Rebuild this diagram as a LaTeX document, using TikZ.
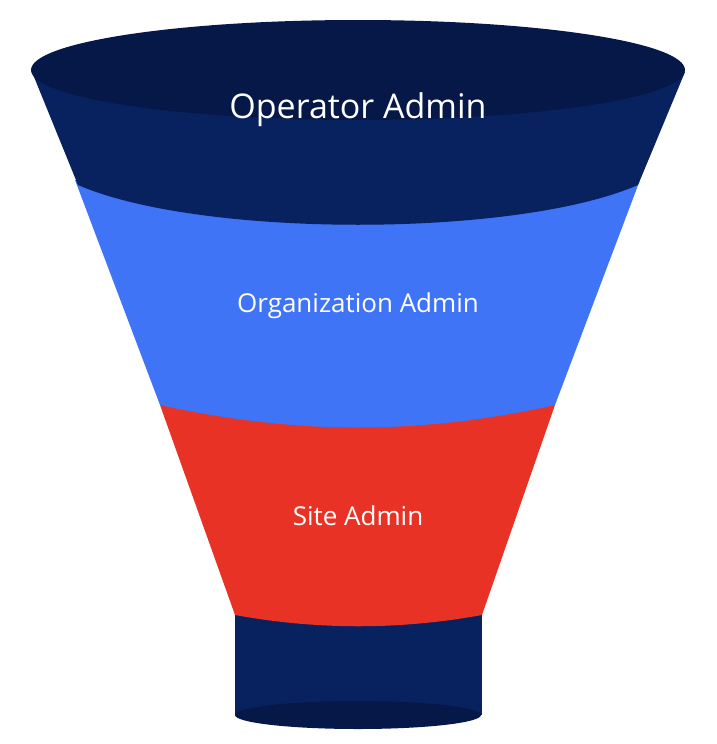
\documentclass[tikz,border=0pt]{standalone}
\usepackage{fontspec}
\setmainfont{Open Sans}
\definecolor{navy}{HTML}{08215F}
\definecolor{navydark}{HTML}{061848}
\definecolor{fblue}{HTML}{3E74F5}
\definecolor{fred}{HTML}{E83225}
\tikzset{lbl/.style={text=white,font=\fontsize{26}{30}\selectfont}}
\begin{document}
\begin{tikzpicture}[x=1pt,y=-1pt]
\useasboundingbox (0,0) rectangle (716,744);
% neck
\fill[navy] (235,600) rectangle (482,715);
\fill[navydark] (358,715) ellipse [x radius=123, y radius=14];
% red band
\fill[fred] (160,405) -- (555,405) -- (482,615) .. controls (400,630) and (317,630) .. (235,615) -- cycle;
% blue band
\fill[fblue] (75,180) -- (640,180) -- (555,405) .. controls (420,435) and (296,435) .. (160,405) -- cycle;
% navy band
\fill[navy] (32,72) -- (685,72) -- (638,185) .. controls (516,238) and (200,238) .. (78,185) -- cycle;
\fill[navydark] (358,70) ellipse [x radius=327, y radius=50];
\node[lbl,font=\fontsize{34}{38}\selectfont] (op) at (358,110) {Operator Admin};
\node[lbl] (org) at (358,306) {Organization Admin};
\node[lbl] (site) at (358,516) {Site Admin};
\end{tikzpicture}
\end{document}
